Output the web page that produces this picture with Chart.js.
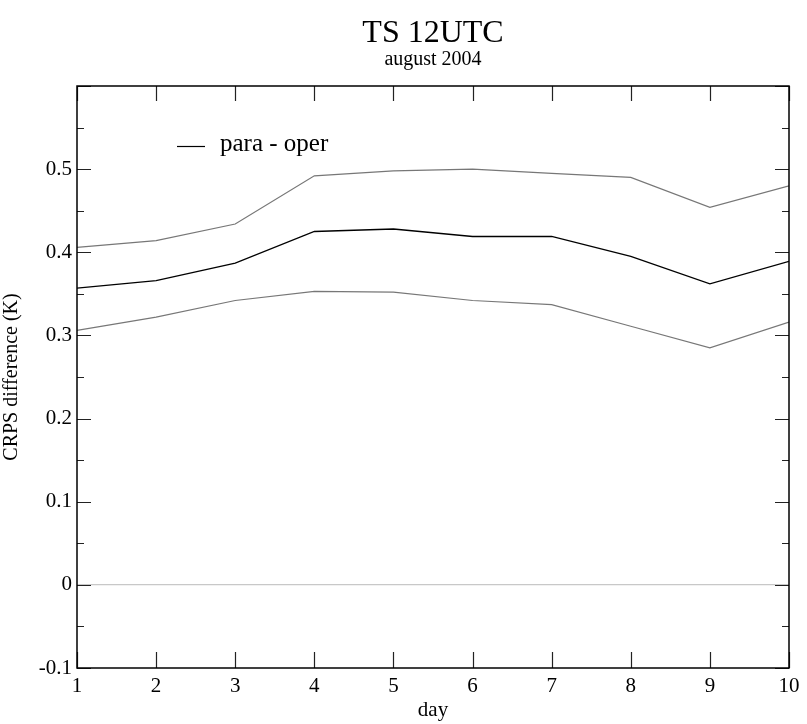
<!DOCTYPE html>
<html>
<head>
<meta charset="utf-8">
<script src="https://cdn.jsdelivr.net/npm/chart.js@4.4.1/dist/chart.umd.min.js"></script>
<style>
	body{margin:0;background:#fff;}
	#wrap{width:807px;height:724px;position:relative;}
</style>
</head>
<body>
<div id="wrap"><canvas id="chart"></canvas></div>
<script>
// values
var days = [1, 2, 3, 4, 5, 6, 7, 8, 9, 10];
var paraOper = [0.357, 0.366, 0.387, 0.425, 0.428, 0.419, 0.419, 0.395, 0.362, 0.389];
var upperBound = [0.406, 0.414, 0.434, 0.492, 0.498, 0.500, 0.495, 0.490, 0.454, 0.480];
var lowerBound = [0.306, 0.322, 0.342, 0.353, 0.352, 0.342, 0.337, 0.311, 0.285, 0.316];
var yTickLabels = ['-0.1', '0', '0.1', '0.2', '0.3', '0.4', '0.5'];
var titleText = 'TS 12UTC';
var subtitleText = 'august 2004';

var serif = "'Liberation Serif', 'DejaVu Serif', serif";

function toPoints(arr){
	var pts = [];
	for (var i = 0; i < days.length; i++) {
		pts.push({x: days[i], y: arr[i]});
	}
	return pts;
}

function isTenth(v){
	return Math.abs(v*10 - Math.round(v*10)) < 1e-6;
}

// inward ticks on all four sides, the frame, titles and the little legend
var framePlugin = {
	id: 'frame',
	afterDraw: function(chart){
		var ctx = chart.ctx, a = chart.chartArea;
		var x = chart.scales.x, y = chart.scales.y;
		ctx.save();
		ctx.strokeStyle = '#222';
		ctx.lineWidth = 1.2;
		ctx.beginPath();
		x.ticks.forEach(function(t){
			var px = Math.round(x.getPixelForValue(t.value)) + 0.5;
			ctx.moveTo(px, a.bottom); ctx.lineTo(px, a.bottom - 16);
			ctx.moveTo(px, a.top); ctx.lineTo(px, a.top + 15);
		});
		y.ticks.forEach(function(t){
			var py = Math.round(y.getPixelForValue(t.value)) + 0.5;
			var len = isTenth(t.value) ? 14 : 7;
			ctx.moveTo(a.left, py); ctx.lineTo(a.left + len, py);
			ctx.moveTo(a.right, py); ctx.lineTo(a.right - len, py);
		});
		ctx.stroke();
		ctx.strokeStyle = '#000';
		ctx.lineWidth = 1.5;
		ctx.strokeRect(a.left, a.top, a.right - a.left, a.bottom - a.top);

		// titles, centred over the plot area
		var cx = (a.left + a.right) / 2;
		ctx.fillStyle = '#000';
		ctx.textAlign = 'center';
		ctx.textBaseline = 'alphabetic';
		ctx.font = '32px ' + serif;
		ctx.fillText(titleText, cx, 42);
		ctx.font = '20px ' + serif;
		ctx.fillText(subtitleText, cx, 65);

		// legend
		var ds = chart.data.datasets[0];
		ctx.strokeStyle = ds.borderColor;
		ctx.lineWidth = 1.2;
		ctx.beginPath();
		ctx.moveTo(a.left + 100, a.top + 60.5);
		ctx.lineTo(a.left + 128, a.top + 60.5);
		ctx.stroke();
		ctx.font = '25px ' + serif;
		ctx.textAlign = 'left';
		ctx.fillText(ds.label, a.left + 143, a.top + 65);
		ctx.restore();
	}
};

var config = {
	type: 'line',
	data: {
		datasets: [{
			label: 'para - oper',
			data: toPoints(paraOper),
			borderColor: '#000',
			borderWidth: 1.3
		}, {
			label: 'upper',
			data: toPoints(upperBound),
			borderColor: '#777',
			borderWidth: 1.2
		}, {
			label: 'lower',
			data: toPoints(lowerBound),
			borderColor: '#777',
			borderWidth: 1.2
		}]
	},
	options: {
		responsive: true,
		maintainAspectRatio: false,
		animation: false,
		elements: {
			point: {radius: 0},
			line: {tension: 0}
		},
		layout: {
			padding: {left: 0, right: 18, top: 86, bottom: 0}
		},
		plugins: {
			legend: {display: false},
			tooltip: {enabled: false},
			title: {display: false}
		},
		scales: {
			x: {
				type: 'linear',
				min: 1,
				max: 10,
				border: {display: false},
				grid: {display: false, drawTicks: false},
				ticks: {
					stepSize: 1,
					autoSkip: false,
					maxRotation: 0,
					padding: 6,
					color: '#000',
					font: {family: serif, size: 21}
				},
				title: {
					display: true,
					text: 'day',
					color: '#000',
					font: {family: serif, size: 21},
					padding: {top: 0, bottom: 1}
				},
				afterFit: function(scale){ scale.height = 56; }
			},
			y: {
				type: 'linear',
				min: -0.1,
				max: 0.6,
				border: {display: false},
				grid: {
					drawTicks: false,
					color: function(c){
						return Math.abs(c.tick.value) < 1e-9 ? '#c8c8c8' : 'rgba(0,0,0,0)';
					},
					lineWidth: 1.2
				},
				ticks: {
					stepSize: 0.05,
					autoSkip: false,
					padding: 5,
					color: '#000',
					font: {family: serif, size: 21},
					callback: function(v){
						if (!isTenth(v)) return '';
						var s = (Math.round(v*10)/10).toString();
						return yTickLabels.indexOf(s) >= 0 ? s : '';
					}
				},
				title: {
					display: true,
					text: 'CRPS difference (K)',
					color: '#000',
					font: {family: serif, size: 20},
					padding: {top: 0, bottom: 0}
				},
				afterFit: function(scale){ scale.width = 77; }
			}
		}
	},
	plugins: [framePlugin]
};

var ctx = document.getElementById('chart').getContext('2d');
window.myChart = new Chart(ctx, config);
</script>
</body>
</html>
